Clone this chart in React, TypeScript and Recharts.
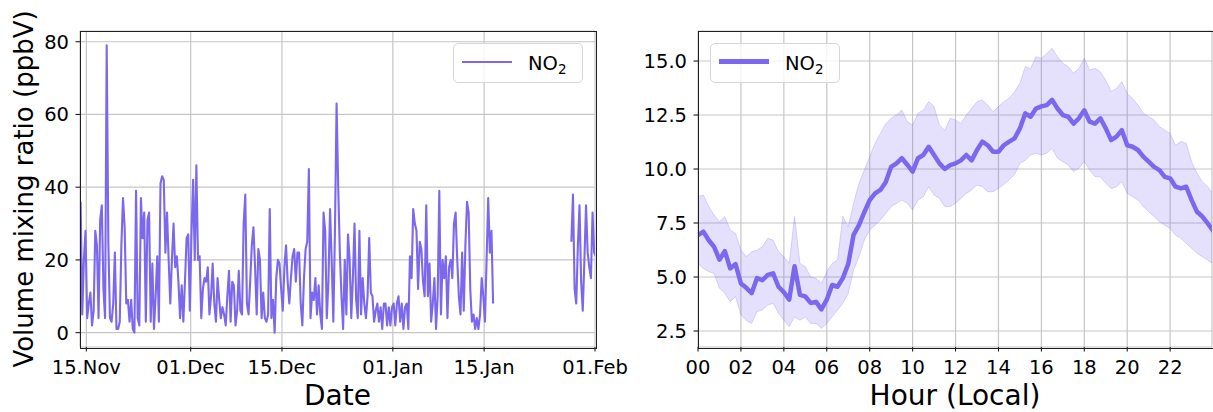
import React from "react";
import {
  LineChart,
  ComposedChart,
  Line,
  Area,
  XAxis,
  YAxis,
  CartesianGrid,
  Legend,
} from "recharts";

const purple = "#7b68ee";
const font = "'DejaVu Sans', Verdana, sans-serif";

// left panel: days since 15 Nov, one value every 6 h
const STEP_DAYS = 0.25;
const dateTicks = [0, 16, 30, 47, 61, 78];
const dateTickLabels = ["15.Nov", "01.Dec", "15.Dec", "01.Jan", "15.Jan", "01.Feb"];
const dateTicksY = [0, 20, 40, 60, 80];

const novStartDay = -0.875;
const novNo2 = [
  36, 5, 20, 28, 4, 8, 11, 2, 6, 28,
  24, 4, 31, 35, 12, 4, 79, 25, 4, 3,
  8, 22, 1, 1, 3, 24, 37, 29, 8, 9,
  3, 9, 1, 0, 39, 4, 2, 37, 26, 33,
  3, 31, 33, 3, 19, 1, 10, 21, 3, 41,
  43, 42, 22, 33, 20, 8, 20, 30, 18, 21,
  14, 4, 13, 3, 14, 26, 27, 6,
];

const decStartDay = 16.125;
const decNo2 = [
  27, 42,
  20, 46, 20, 21, 4, 12, 15, 14, 18, 5,
  10, 19, 8, 3, 15, 9, 4, 7, 5, 2,
  10, 17, 3, 14, 13, 2, 6, 17, 6, 5,
  30, 38, 8, 5, 14, 24, 29, 18, 5, 23,
  20, 4, 11, 4, 3, 5, 34, 4, 9, 0,
  15, 20, 19, 12, 6, 18, 24, 14, 8, 15,
  21, 23, 14, 22, 22, 8, 2, 15, 23, 25,
  45, 4, 11, 9, 15, 5, 13, 5, 1, 33,
  28, 4, 14, 34, 20, 3, 28, 63, 40, 22,
  10, 1, 20, 5, 27, 20, 4, 15, 30, 9,
  4, 28, 5, 15, 8, 4, 10, 26, 11, 10,
  3, 6, 8, 3, 7, 1, 8, 8, 2, 7,
  2, 7,
];

const janStartDay = 47.125;
const janNo2 = [
  8, 2, 8, 10, 3, 8, 1, 7,
  8, 1, 21, 15, 34, 30, 28, 12, 25, 23,
  14, 10, 35, 10, 19, 3, 8, 15, 1, 10,
  39, 5, 20, 15, 21, 4, 18, 20, 15, 30,
  33, 20, 10, 5, 22, 6, 24, 36, 33, 12,
  3, 5, 1, 4, 1, 5, 15, 10, 3, 20,
  37, 22, 28, 8,
];

const lateJanStartDay = 74.375;
const lateJanNo2 = [25, 38, 12, 8, 24, 35, 14, 6, 20, 35, 22, 18, 15, 33, 22, 21];

// right panel: diurnal cycle, every 15 min
const STEP_HOURS = 0.25;
const hourTicks = [0, 2, 4, 6, 8, 10, 12, 14, 16, 18, 20, 22];
const hourTicksY = [2.5, 5, 7.5, 10, 12.5, 15];

const meanNo2 = [
  6.94, 7.1, 6.7, 6.4, 5.8, 6.2, 5.4, 5.6, 4.7, 4.5, 4.25, 4.95,
  4.85, 5.1, 5.17, 4.55, 4.3, 3.95, 5.5, 4.17, 4.1, 3.8, 3.85, 3.5,
  3.95, 4.63, 4.55, 4.95, 5.6, 6.95, 7.4, 8.0, 8.56, 8.87, 9.03, 9.4,
  10.1, 10.26, 10.5, 10.2, 9.88, 10.5, 10.65, 11.03, 10.65, 10.26, 10.0, 10.18,
  10.26, 10.4, 10.65, 10.4, 10.88, 11.27, 11.1, 10.8, 10.8, 11.1, 11.27, 11.42,
  11.88, 12.58, 12.42, 12.8, 12.9, 12.96, 13.2, 12.8, 12.5, 12.42, 12.1, 12.35,
  12.72, 12.19, 12.1, 12.35, 11.88, 11.34, 11.5, 11.8, 11.1, 11.03, 10.88, 10.57,
  10.34, 10.1, 9.95, 9.64, 9.57, 9.18, 9.1, 9.18, 8.56, 8.02, 7.8, 7.48,
  7.15,
];

const upperNo2 = [
  8.72, 8.8, 8.26, 7.87, 7.56, 7.8, 7.18, 7.02, 6.25, 5.94, 6.17, 6.25,
  6.4, 6.79, 6.71, 6.17, 5.94, 5.63, 7.8, 5.63, 5.48, 5.0, 4.94, 4.7,
  5.25, 5.63, 5.79, 7.8, 7.33, 8.41, 9.34, 9.95, 10.57, 11.19, 11.65, 12.1,
  12.35, 12.5, 12.73, 12.19, 12.04, 12.58, 12.73, 13.12, 12.89, 12.04, 11.8, 12.35,
  12.27, 12.1, 12.5, 12.8, 13.12, 13.2, 12.96, 12.65, 12.89, 13.12, 13.27, 13.58,
  13.97, 14.74, 14.66, 15.2, 15.12, 15.35, 15.59, 15.2, 14.9, 14.74, 14.43, 14.66,
  15.12, 14.58, 14.66, 14.5, 14.12, 13.58, 13.73, 14.04, 13.5, 13.27, 12.96, 12.58,
  12.42, 12.27, 11.96, 11.8, 11.65, 11.1, 11.27, 11.19, 10.34, 9.8, 9.41, 9.18,
  8.85,
];

const lowerNo2 = [
  5.63, 5.4, 5.25, 5.17, 4.48, 4.25, 3.86, 4.09, 3.24, 3.0, 2.85, 3.4,
  3.47, 3.7, 3.78, 3.32, 3.0, 2.7, 3.16, 3.0, 3.16, 2.85, 2.85, 2.62,
  2.85, 3.16, 3.47, 3.78, 4.24, 5.32, 5.94, 6.71, 7.18, 7.4, 7.64, 7.95,
  8.26, 8.41, 8.56, 8.41, 8.1, 8.56, 8.72, 9.18, 8.8, 8.64, 8.26, 8.26,
  8.41, 8.64, 8.87, 9.03, 9.26, 9.18, 8.95, 8.95, 9.1, 9.3, 9.5, 9.75,
  10.26, 10.41, 10.65, 10.73, 10.65, 10.73, 10.96, 10.5, 10.34, 10.18, 9.88, 10.03,
  10.34, 9.95, 9.64, 9.64, 9.34, 9.1, 9.18, 9.41, 8.87, 8.72, 8.56, 8.26,
  8.02, 7.8, 7.56, 7.4, 7.25, 6.94, 6.79, 6.56, 6.33, 6.1, 5.94, 5.79,
  5.6,
];

function seriesRows(start: number, values: number[]) {
  return values.map((v, i) => ({ day: start + i * STEP_DAYS, no2: v as number | null }));
}

const dateRows = [
  ...seriesRows(novStartDay, novNo2),
  ...seriesRows(decStartDay, decNo2),
  ...seriesRows(janStartDay, janNo2),
  { day: 68, no2: null },
  ...seriesRows(lateJanStartDay, lateJanNo2),
];

const hourRows = meanNo2.map((m, i) => ({
  hour: i * STEP_HOURS,
  mean: m,
  band: [lowerNo2[i], upperNo2[i]],
}));

const DATE_X: [number, number] = [-0.97, 78];
const DATE_Y: [number, number] = [-3.95, 82.95];
const HOUR_X: [number, number] = [0, 23.95];
const HOUR_Y: [number, number] = [1.76, 16.39];

// plot boxes (chart-local pixels)
const TOP = 31;
const BOTTOM = 347;
const LEFT_L = 80;
const LEFT_R = 98;

const spine = "#1f1f1f";
const FS = 19.5;

function xTick(plotBottom: number, fmt: (v: number) => string) {
  return (p: any) => (
    <g>
      <line x1={p.x} x2={p.x} y1={plotBottom} y2={plotBottom + 4.5} stroke={spine} strokeWidth={1.1} />
      <text x={p.x} y={plotBottom + 26.5} textAnchor="middle" fontSize={FS} fontFamily={font} fill="#000">
        {fmt(p.payload.value)}
      </text>
    </g>
  );
}

function yTick(plotLeft: number, fmt: (v: number) => string) {
  return (p: any) => (
    <g>
      <line x1={plotLeft - 4.5} x2={plotLeft} y1={p.y} y2={p.y} stroke={spine} strokeWidth={1.1} />
      <text x={plotLeft - 11} y={p.y + 7} textAnchor="end" fontSize={FS} fontFamily={font} fill="#000">
        {fmt(p.payload.value)}
      </text>
    </g>
  );
}

function Frame({ left, width }: { left: number; width: number }) {
  return (
    <div
      style={{
        position: "absolute",
        left: left - 0.5,
        top: TOP - 0.5,
        width: width,
        height: BOTTOM - TOP,
        border: `1.1px solid ${spine}`,
        boxSizing: "content-box",
        pointerEvents: "none",
      }}
    />
  );
}

function LegendBox({ thick }: { thick: boolean }) {
  const h = thick ? 4.5 : 2;
  return (
    <div
      style={{
        width: 130,
        height: 40,
        boxSizing: "border-box",
        border: "1px solid #d6d6d6",
        borderRadius: 5,
        background: "rgba(255,255,255,0.8)",
        position: "relative",
        fontFamily: font,
      }}
    >
      <div style={{ position: "absolute", left: 8, top: 17.5 - h / 2, width: 50, height: h, background: purple }} />
      <span style={{ position: "absolute", left: 74, top: 10, fontSize: FS, lineHeight: "19px", color: "#000", whiteSpace: "nowrap" }}>
        NO<span style={{ fontSize: 13.5, position: "relative", top: 4 }}>2</span>
      </span>
    </div>
  );
}

function DateChart() {
  return (
    <LineChart width={640} height={412} data={dateRows} margin={{ top: TOP, right: 45, bottom: 5, left: 0 }}>
      <CartesianGrid stroke="#c6c6c6" strokeWidth={1.2} />
      <XAxis
        dataKey="day"
        type="number"
        domain={DATE_X}
        allowDataOverflow
        ticks={dateTicks}
        interval={0}
        tick={xTick(BOTTOM, (v) => dateTickLabels[dateTicks.indexOf(v)] ?? "")}
        tickLine={false}
        axisLine={false}
        height={60}
        label={{ value: "Date", position: "insideBottom", offset: 2, fontSize: 28, fill: "#000", fontFamily: font }}
      />
      <YAxis
        type="number"
        domain={DATE_Y}
        allowDataOverflow
        ticks={dateTicksY}
        interval={0}
        tick={yTick(LEFT_L, (v) => String(v))}
        tickLine={false}
        axisLine={false}
        width={LEFT_L}
        label={{
          value: "Volume mixing ratio (ppbV)",
          angle: -90,
          position: "insideLeft",
          offset: 24,
          fontSize: 26,
          fill: "#000",
          fontFamily: font,
          style: { textAnchor: "middle" },
        }}
      />
      <Line
        dataKey="no2"
        type="linear"
        stroke={purple}
        strokeWidth={2.1}
        dot={false}
        isAnimationActive={false}
        strokeLinejoin="round"
      />
      <Legend
        layout="horizontal"
        verticalAlign="middle"
        align="center"
        wrapperStyle={{ left: 453, top: 43, width: 130 }}
        content={() => <LegendBox thick={false} />}
      />
    </LineChart>
  );
}

function HourChart() {
  return (
    <ComposedChart width={613} height={412} data={hourRows} margin={{ top: TOP, right: 1, bottom: 5, left: 0 }}>
      <CartesianGrid stroke="#c6c6c6" strokeWidth={1.2} />
      <XAxis
        dataKey="hour"
        type="number"
        domain={HOUR_X}
        allowDataOverflow
        ticks={hourTicks}
        interval={0}
        tick={xTick(BOTTOM, (v) => String(v).padStart(2, "0"))}
        tickLine={false}
        axisLine={false}
        height={60}
        label={{ value: "Hour (Local)", position: "insideBottom", offset: 2, fontSize: 28, fill: "#000", fontFamily: font }}
      />
      <YAxis
        type="number"
        domain={HOUR_Y}
        allowDataOverflow
        ticks={hourTicksY}
        interval={0}
        tick={yTick(LEFT_R, (v) => v.toFixed(1))}
        tickLine={false}
        axisLine={false}
        width={LEFT_R}
      />
      <Area
        dataKey="band"
        type="linear"
        stroke={purple}
        strokeOpacity={0.25}
        strokeWidth={1}
        fill={purple}
        fillOpacity={0.2}
        isAnimationActive={false}
        dot={false}
        activeDot={false}
      />
      <Line
        dataKey="mean"
        type="linear"
        stroke={purple}
        strokeWidth={4.5}
        dot={false}
        isAnimationActive={false}
        strokeLinejoin="round"
        strokeLinecap="round"
      />
      <Legend
        layout="horizontal"
        verticalAlign="middle"
        align="center"
        wrapperStyle={{ left: 110, top: 43, width: 130 }}
        content={() => <LegendBox thick />}
      />
    </ComposedChart>
  );
}

export default function App() {
  return (
    <div style={{ position: "absolute", left: 0, top: 0, width: 1213, height: 412, background: "#fff", fontFamily: font, overflow: "hidden" }}>
      <div style={{ position: "absolute", left: 600, top: 0 }}>
        <HourChart />
        <Frame left={LEFT_R} width={612 - LEFT_R} />
      </div>
      <div style={{ position: "absolute", left: 0, top: 0 }}>
        <DateChart />
        <Frame left={LEFT_L} width={595 - LEFT_L} />
      </div>
    </div>
  );
}
